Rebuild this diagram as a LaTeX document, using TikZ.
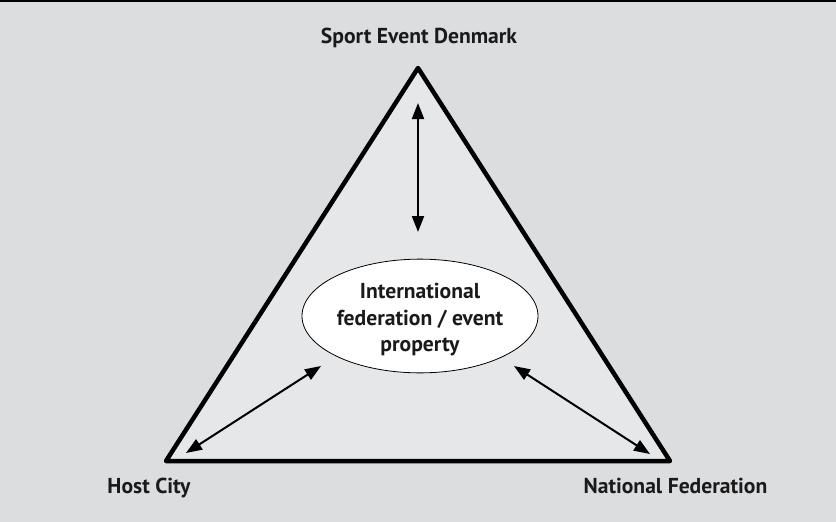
\documentclass[tikz,border=0pt]{standalone}
\usepackage{fontspec}
\setmainfont{PT Sans}
\usepackage{tikz}
\usetikzlibrary{arrows.meta,shapes.geometric}
\definecolor{bgrey}{HTML}{DCDDDF}
\definecolor{tgrey}{HTML}{E6E7E9}
\definecolor{ink}{HTML}{1A1A1A}
\tikzset{
lbl/.style={anchor=base,text=ink,font=\fontsize{21.6}{26.5}\selectfont\bfseries},
link/.style={{Triangle[length=16pt,width=12pt]}-{Triangle[length=16pt,width=12pt]},line width=2pt}
}

\begin{document}
\begin{tikzpicture}[x=1pt,y=-1pt]
\useasboundingbox (0,0) rectangle (836,522);
\fill[bgrey] (0,0) rectangle (836,522);
\draw[line width=1.5pt] (0,0.75) -- (836,0.75);

\coordinate (top) at (418,68);
\coordinate (bl) at (166,461);
\coordinate (br) at (670,461);
\filldraw[fill=tgrey,draw=black,line width=4.5pt,line join=round] (top) -- (bl) -- (br) -- cycle;

\node (sed) at (419,43) [lbl] {Sport Event Denmark};
\node (host) at (149,493) [lbl] {Host City};
\node (natfed) at (675.5,493) [lbl] {National Federation};
\node (ifed) at (420,316) [ellipse,draw,fill=white,line width=0.8pt,minimum width=236pt,minimum height=112pt,inner sep=0pt,align=center,text=ink,font=\fontsize{21.6}{26.5}\selectfont\bfseries] {\rule{0pt}{23pt}International\\federation / event\\property};

\coordinate (sa) at (418,103);
\coordinate (sb) at (418,232);
\coordinate (ha) at (186,453);
\coordinate (hb) at (321,366);
\coordinate (na) at (650,454);
\coordinate (nb) at (514,366);

\draw[link] (sa) -- (sb);
\draw[link] (ha) -- (hb);
\draw[link] (na) -- (nb);

\end{tikzpicture}
\end{document}
